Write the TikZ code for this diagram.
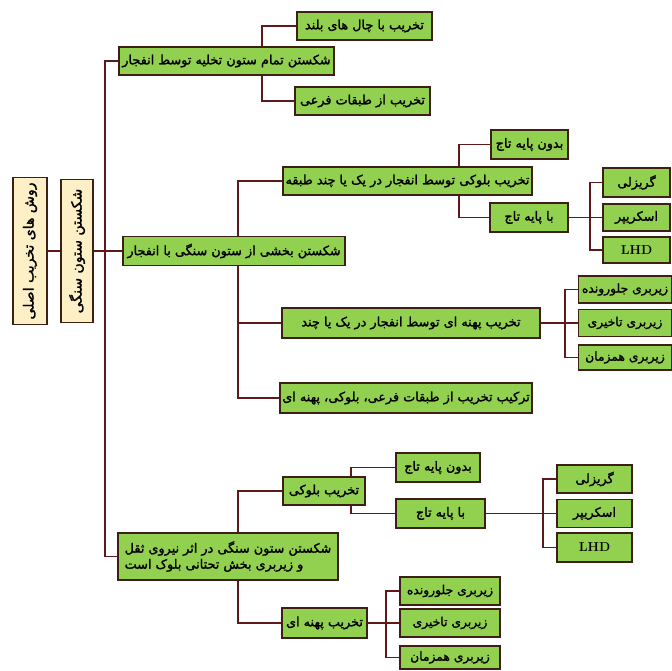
\documentclass[tikz,border=0pt]{standalone}
\usepackage{fontspec}
\usetikzlibrary{backgrounds}
\TeXXeTstate=1
\newfontfamily\fa[Script=Arabic,FakeBold=1.6]{DejaVu Sans}
\definecolor{grn}{HTML}{92D050}
\definecolor{ylw}{HTML}{FDF0C6}
\definecolor{boxc}{HTML}{3E1F14}
\definecolor{linec}{HTML}{5E1A1A}
\tikzset{
  gbox/.style={draw=boxc, line width=1.5pt, fill=grn, inner sep=0pt, text=black,
    font=\fa\fontsize{12.8}{16}\selectfont},
  ybox/.style={draw=boxc, line width=1.4pt, fill=ylw, inner sep=0pt, rotate=90, text=black,
    font=\fa\fontsize{14}{16}\selectfont},
  conn/.style={draw=linec, line width=1.3pt},
  lat/.style={font=\rmfamily\bfseries\fontsize{13}{15}\selectfont},
  small/.style={font=\fa\fontsize{12.3}{15}\selectfont}
}
\newcommand\gb[6][]{\node[gbox,minimum width=#4pt,minimum height=#5pt,#1] (#2) at #3 {#6};}
\begin{document}
\begin{tikzpicture}[x=1pt,y=-1pt]
\useasboundingbox (0,0) rectangle (672,670);
% left vertical boxes
\node[ybox,minimum width=147pt,minimum height=34pt] (L1) at (30,251) {\beginR روش های تخریب اصلی\endR};
\node[ybox,minimum width=143pt,minimum height=32pt] (L2) at (77,251) {\beginR شکستن ستون سنگی\endR};
% level 1
\gb{B1}{(226.5,61)}{215}{28}{\beginR شکستن تمام ستون تخلیه توسط انفجار\endR}
\gb{B2}{(234,251)}{222}{29}{\beginR شکستن بخشی از ستون سنگی با انفجار\endR}
\gb[align=left]{B3}{(228,556.5)}{220}{47}{\beginR شکستن ستون سنگی در اثر نیروی ثقل\endR\\\beginR و زیربری بخش تحتانی بلوک است\endR}
% B1 children
\gb{B1a}{(364.5,26)}{135}{28}{\beginR تخریب با چال های بلند\endR}
\gb{B1b}{(362.5,101)}{135}{28}{\beginR تخریب از طبقات فرعی\endR}
% B2 children
\gb{B2a}{(407.5,181)}{249}{28}{\beginR تخریب بلوکی توسط انفجار در یک یا چند طبقه\endR}
\gb{B2b}{(411,323)}{258}{30}{\beginR تخریب پهنه ای توسط انفجار در یک یا چند\endR}
\gb{B2c}{(406,398)}{252}{30}{\beginR ترکیب تخریب از طبقات فرعی، بلوکی، پهنه ای\endR}
\gb{B2a1}{(529.5,144.5)}{77}{29}{\beginR بدون پایه تاج\endR}
\gb{B2a2}{(529,217.5)}{78}{29}{\beginR با پایه تاج\endR}
\gb{G1}{(636.5,182.5)}{67}{29}{\beginR گریزلی\endR}
\gb{G2}{(636.5,217.5)}{67}{27}{\beginR اسکریپر\endR}
\gb[lat]{G3}{(636.5,250)}{67}{26}{LHD}
\gb[small]{Z1}{(625,289.5)}{93}{27}{\beginR زیربری جلورونده\endR}
\gb[small]{Z2}{(625,323)}{93}{27}{\beginR زیربری تاخیری\endR}
\gb[small]{Z3}{(625,357.5)}{93}{25}{\beginR زیربری همزمان\endR}
% B3 children
\gb{B3a}{(324,491)}{82}{28}{\beginR تخریب بلوکی\endR}
\gb{B3b}{(324.5,623)}{85}{30}{\beginR تخریب پهنه ای\endR}
\gb{B3a1}{(438,467.5)}{84}{29}{\beginR بدون پایه تاج\endR}
\gb{B3a2}{(440.5,513.5)}{89}{29}{\beginR با پایه تاج\endR}
\gb{H1}{(594.5,479)}{75}{28}{\beginR گریزلی\endR}
\gb{H2}{(594.5,513.5)}{75}{28}{\beginR اسکریپر\endR}
\gb[lat]{H3}{(594.5,547.5)}{75}{29}{LHD}
\gb[small]{K1}{(450,591)}{100}{28}{\beginR زیربری جلورونده\endR}
\gb[small]{K2}{(450,623)}{100}{28}{\beginR زیربری تاخیری\endR}
\gb[small]{K3}{(450,657.5)}{100}{23}{\beginR زیربری همزمان\endR}
% connectors
\begin{pgfonlayer}{background}
\fill[white] (0,0) rectangle (672,670);
\coordinate (mv) at (105,251);
\coordinate (b1j) at (262,61);
\coordinate (b2j) at (238,251);
\coordinate (b2aj) at (459,181);
\coordinate (gj) at (590,217.5);
\coordinate (zj) at (565,323);
\coordinate (b3j) at (238,556.5);
\coordinate (b3aj) at (351,491);
\coordinate (hj) at (543,513.5);
\coordinate (kj) at (386,623);
\draw[conn] (L1) -- (L2);
\draw[conn] (L2) -- (B2);
\draw[conn] (B1.west) -| (mv) |- (B3.west);
\draw[conn] (b1j) |- (B1a.west);
\draw[conn] (b1j) |- (B1b.west);
\draw[conn] (b2j) |- (B2a.west);
\draw[conn] (b2j) |- (B2b.west);
\draw[conn] (b2j) |- (B2c.west);
\draw[conn] (b2aj) |- (B2a1.west);
\draw[conn] (b2aj) |- (B2a2.west);
\draw[conn] (B2a2.east) -- (gj);
\draw[conn] (gj) |- (G1.west);
\draw[conn] (gj) |- (G2.west);
\draw[conn] (gj) |- (G3.west);
\draw[conn] (B2b.east) -- (zj);
\draw[conn] (zj) |- (Z1.west);
\draw[conn] (zj) |- (Z2.west);
\draw[conn] (zj) |- (Z3.west);
\draw[conn] (b3j) |- (B3a.west);
\draw[conn] (b3j) |- (B3b.west);
\draw[conn] (b3aj) |- (B3a1.west);
\draw[conn] (b3aj) |- (B3a2.west);
\draw[conn] (B3a2.east) -- (hj);
\draw[conn] (hj) |- (H1.west);
\draw[conn] (hj) |- (H2.west);
\draw[conn] (hj) |- (H3.west);
\draw[conn] (B3b.east) -- (kj);
\draw[conn] (kj) |- (K1.west);
\draw[conn] (kj) |- (K2.west);
\draw[conn] (kj) |- (K3.west);
\end{pgfonlayer}
\end{tikzpicture}
\end{document}
